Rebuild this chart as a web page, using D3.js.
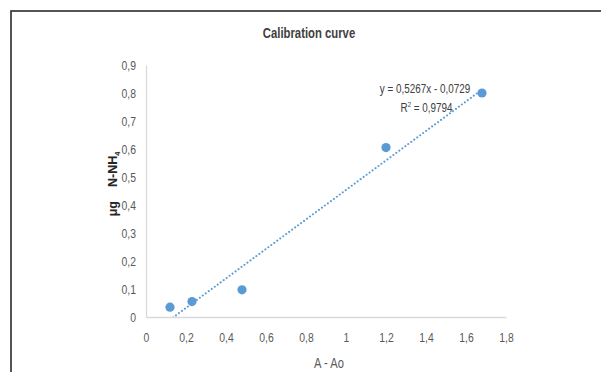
<!DOCTYPE html>
<html>
<head>
<meta charset="utf-8">
<script src="https://cdn.jsdelivr.net/npm/d3@7"></script>
<style>
  body { margin: 0; background: #fff; }
  svg { display: block; }
  text { font-family: "Liberation Sans", Arial, sans-serif; }
</style>
</head>
<body>
<script>
const width = 601, height = 372;

// measured data
const absorbance = [0.12, 0.23, 0.48, 1.2, 1.68];
const nitrogen = [0.035, 0.055, 0.097, 0.605, 0.8];
const xTicks = [0, 0.2, 0.4, 0.6, 0.8, 1, 1.2, 1.4, 1.6, 1.8];
const yTicks = [0, 0.1, 0.2, 0.3, 0.4, 0.5, 0.6, 0.7, 0.8, 0.9];
const slope = 0.5267, intercept = -0.0729, r2 = 0.9794;

const margin = { left: 146, right: 95, top: 65, bottom: 55 };
const narrow = 0.77; // squeeze text horizontally, no narrow font available

const svg = d3.select("body").append("svg")
  .attr("width", width)
  .attr("height", height);

// chart frame
svg.append("rect")
  .attr("x", 11).attr("y", 11)
  .attr("width", 700).attr("height", 500)
  .attr("fill", "none")
  .attr("stroke", "#2b2b2b")
  .attr("stroke-width", 1.6);

const x = d3.scaleLinear().domain([0, 1.8]).range([margin.left, width - margin.right]);
const y = d3.scaleLinear().domain([0, 0.9]).range([height - margin.bottom, margin.top]);

const comma = d => d3.format("")(d).replace(".", ",");

const xAxis = svg.append("g")
  .attr("transform", `translate(0,${y(0)})`)
  .call(d3.axisBottom(x).tickValues(xTicks).tickFormat(comma).tickSize(0).tickPadding(15));
const yAxis = svg.append("g")
  .attr("transform", `translate(${x(0)},0)`)
  .call(d3.axisLeft(y).tickValues(yTicks).tickFormat(comma).tickSize(0).tickPadding(13));

[xAxis, yAxis].forEach(g => {
  g.select(".domain").attr("stroke", "#d9d9d9").attr("stroke-width", 1.3);
  g.selectAll("text")
    .attr("fill", "#595959")
    .attr("font-size", 13.5)
    .attr("transform", `scale(${narrow},1)`);
});

// trendline, clipped to the plot area
svg.append("clipPath").attr("id", "plot")
  .append("rect")
  .attr("x", x(0)).attr("y", y(0.9))
  .attr("width", x(1.8) - x(0)).attr("height", y(0) - y(0.9));

const ext = d3.extent(absorbance);
svg.append("line")
  .attr("clip-path", "url(#plot)")
  .attr("x1", x(ext[0])).attr("y1", y(slope * ext[0] + intercept))
  .attr("x2", x(ext[1])).attr("y2", y(slope * ext[1] + intercept))
  .attr("stroke", "#5b9bd5")
  .attr("stroke-width", 2)
  .attr("stroke-dasharray", "0.1 3.6")
  .attr("stroke-linecap", "round");

svg.selectAll("circle")
  .data(absorbance)
  .enter()
  .append("circle")
  .attr("cx", d => x(d))
  .attr("cy", (d, i) => y(nitrogen[i]))
  .attr("r", 4.6)
  .attr("fill", "#5b9bd5");

// equation label
const eq = svg.append("text")
  .attr("transform", `translate(425,0) scale(0.76,1)`)
  .attr("font-size", 13)
  .attr("fill", "#404040")
  .attr("text-anchor", "middle");
eq.append("tspan").attr("x", 0).attr("y", 93)
  .text(`y = ${comma(slope)}x - ${comma(-intercept)}`);
const r = eq.append("tspan").attr("x", 2).attr("y", 112).text("R");
r.append("tspan").attr("font-size", 8).attr("dy", -5).text("2");
r.append("tspan").attr("dy", 5).text(` = ${comma(r2)}`);

// title
svg.append("text")
  .attr("transform", `translate(309,38) scale(0.78,1)`)
  .attr("text-anchor", "middle")
  .attr("font-size", 14.5)
  .attr("font-weight", "bold")
  .attr("fill", "#404040")
  .text("Calibration curve");

// axis titles
svg.append("text")
  .attr("transform", `translate(329,368) scale(${narrow},1)`)
  .attr("text-anchor", "middle")
  .attr("font-size", 14.5)
  .attr("fill", "#595959")
  .text("A - Ao");

const yl = svg.append("text")
  .attr("transform", "translate(117,184) rotate(-90)")
  .attr("text-anchor", "middle")
  .attr("font-size", 12.5)
  .attr("font-weight", "bold")
  .attr("fill", "#262626");
yl.append("tspan").text("μg");
yl.append("tspan").attr("dx", 14).text("N-NH");
yl.append("tspan").attr("font-size", 7.5).attr("dy", 3).text("4");
</script>
</body>
</html>
